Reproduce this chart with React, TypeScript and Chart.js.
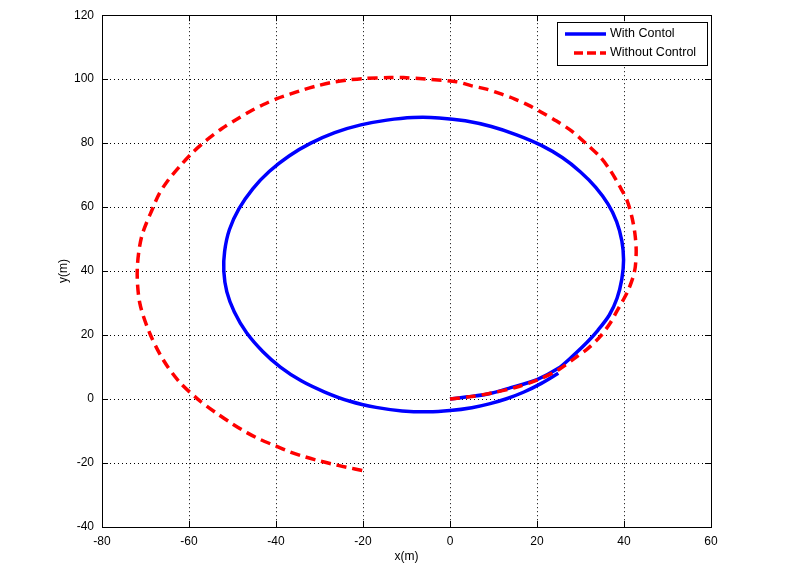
import React, { useEffect, useRef } from 'react';
import { Chart, registerables } from 'chart.js';

Chart.register(...registerables);

const withControlX = [0, 4, 8.4, 13.8, 20, 24.9, 27.6, 31.4, 34, 36.6, 38.4, 39.5, 39.9, 39.5, 38.3, 36.3, 33.5, 30, 25.8, 21, 15.3, 9.5, 3.5, -2.5, -8.5, -14.5, -20.5, -26.5, -32, -37, -41.5, -45.3, -48.5, -50.7, -51.8, -52, -51.3, -49.6, -46.8, -43, -39, -34.2, -28.8, -23, -17, -11, -5, 0, 5, 9, 13, 17, 21, 24.9];
const withControlY = [0, 0.7, 1.5, 3.5, 6.1, 9.6, 12.7, 17.6, 21.5, 26.2, 31.5, 37.5, 43.5, 49.5, 55.5, 61, 66.2, 71, 75.5, 79.3, 82.6, 85.2, 87, 87.9, 88, 87.2, 85.7, 83.3, 80, 76, 71.2, 65.8, 59.5, 53, 46.3, 40, 33.5, 27.3, 20.8, 14.8, 10, 5.7, 2.2, -0.7, -2.6, -3.7, -4, -3.6, -2.7, -1.5, 0.1, 2.2, 4.9, 8.1];

const withoutControlX = [0, 5, 10, 15, 20, 25, 29.1, 31.8, 34.5, 36.8, 38.3, 39.8, 41, 42.1, 42.6, 42.8, 42.5, 41.8, 40.7, 39.1, 36.8, 34.5, 31, 28, 24.5, 21.1, 18, 14.9, 11.9, 8.4, 5, 1.5, -5.4, -10.7, -13.8, -19.9, -23.7, -27.2, -30.6, -33.7, -36.8, -39.8, -43, -46, -49, -52.5, -55.9, -59, -62.1, -64.8, -66.8, -68.2, -70.9, -71.9, -71.3, -69, -65.9, -62.3, -58, -53.8, -50.2, -46.7, -43.7, -40.2, -36.8, -33.5, -30.4, -27.2, -23.8, -19.9];
const withoutControlY = [0, 0.8, 2, 3.6, 5.9, 9.2, 13.2, 15.9, 19.5, 23.7, 27.3, 30.9, 34.1, 38.2, 41.4, 46.6, 51.8, 57, 62.1, 66.3, 71.6, 75.7, 80.2, 83.75, 86.9, 89.6, 91.9, 93.8, 95.3, 96.9, 97.9, 99.2, 100, 100.5, 100.5, 100.2, 99.7, 99, 97.9, 96.7, 95.3, 93.9, 92, 89.9, 87.5, 84.5, 81, 77.3, 72.8, 68.4, 64.3, 60.1, 50.7, 40.3, 29.9, 20.5, 12.2, 5.5, 0, -4.3, -7.6, -10.5, -12.6, -14.6, -16.5, -18, -19.2, -20.3, -21.3, -22.4];

const xTickValues = [-80, -60, -40, -20, 0, 20, 40, 60];
const yTickValues = [-40, -20, 0, 20, 40, 60, 80, 100, 120];
const seriesLabels = ['With Contol', 'Without Control'];
const axisTitles = ['x(m)', 'y(m)'];

const FONT = "'Liberation Sans', Arial, Helvetica, sans-serif";

const boxPlugin = {
  id: 'matlabBox',
  afterDraw(chart: any) {
    const { ctx, chartArea: a, scales } = chart;
    ctx.save();
    ctx.strokeStyle = '#000';
    ctx.lineWidth = 1;
    ctx.setLineDash([]);
    ctx.strokeRect(Math.round(a.left) + 0.5, Math.round(a.top) + 0.5, Math.round(a.right - a.left), Math.round(a.bottom - a.top));
    const tl = 6;
    ctx.beginPath();
    xTickValues.forEach((v) => {
      const px = Math.round(scales.x.getPixelForValue(v)) + 0.5;
      ctx.moveTo(px, a.bottom); ctx.lineTo(px, a.bottom - tl);
      ctx.moveTo(px, a.top); ctx.lineTo(px, a.top + tl);
    });
    yTickValues.forEach((v) => {
      const py = Math.round(scales.y.getPixelForValue(v)) + 0.5;
      ctx.moveTo(a.left, py); ctx.lineTo(a.left + tl, py);
      ctx.moveTo(a.right, py); ctx.lineTo(a.right - tl, py);
    });
    ctx.stroke();

    // legend
    const lx = 557, ly = 22, lw = 150, lh = 43;
    ctx.fillStyle = '#fff';
    ctx.fillRect(lx, ly, lw, lh);
    ctx.strokeRect(lx + 0.5, ly + 0.5, lw, lh);
    const rows = [34, 53];
    chart.data.datasets.forEach((ds: any, i: number) => {
      const y = rows[i];
      ctx.save();
      ctx.strokeStyle = ds.borderColor;
      ctx.lineWidth = ds.borderWidth;
      if (ds.borderDash && ds.borderDash.length) {
        ctx.setLineDash([9, 4]);
        ctx.beginPath(); ctx.moveTo(574, y); ctx.lineTo(606, y); ctx.stroke();
      } else {
        ctx.beginPath(); ctx.moveTo(565, y); ctx.lineTo(606, y); ctx.stroke();
      }
      ctx.restore();
      ctx.fillStyle = '#000';
      ctx.font = `12.5px ${FONT}`;
      ctx.textBaseline = 'middle';
      ctx.textAlign = 'left';
      ctx.fillText(ds.label, 610, y);
    });
    ctx.restore();
  },
};

export default function App() {
  const ref = useRef<HTMLCanvasElement | null>(null);
  useEffect(() => {
    if (!ref.current) return;
    Chart.defaults.font.family = FONT;
    const chart = new Chart(ref.current, {
      type: 'scatter',
      data: {
        datasets: [
          {
            label: seriesLabels[0],
            data: withControlX.map((x, i) => ({ x, y: withControlY[i] })),
            showLine: true,
            borderColor: '#0000ff',
            backgroundColor: '#0000ff',
            borderWidth: 3.5,
            pointRadius: 0,
            fill: false,
            tension: 0.3,
            order: 1,
          },
          {
            label: seriesLabels[1],
            data: withoutControlX.map((x, i) => ({ x, y: withoutControlY[i] })),
            showLine: true,
            borderColor: '#ff0000',
            backgroundColor: '#ff0000',
            borderWidth: 3.5,
            borderDash: [10, 6],
            pointRadius: 0,
            fill: false,
            tension: 0.3,
            order: 0,
          },
        ],
      } as any,
      options: {
        responsive: false,
        animation: false,
        layout: { padding: { left: 0, top: 15, right: 75, bottom: 0 } },
        plugins: { legend: { display: false }, tooltip: { enabled: false } },
        scales: {
          x: {
            type: 'linear',
            min: -80,
            max: 60,
            afterBuildTicks: (s: any) => { s.ticks = xTickValues.map((v) => ({ value: v })); },
            afterFit: (s: any) => { s.height = 38; },
            grid: { color: '#000', lineWidth: 1, drawTicks: false },
            border: { display: false, dash: [1, 3] },
            ticks: { color: '#000', font: { size: 12 }, padding: 7, maxRotation: 0, autoSkip: false },
            title: { display: true, text: axisTitles[0], color: '#000', font: { size: 12 }, padding: { top: 0, bottom: 1 } },
          },
          y: {
            type: 'linear',
            min: -40,
            max: 120,
            afterBuildTicks: (s: any) => { s.ticks = yTickValues.map((v) => ({ value: v })); },
            afterFit: (s: any) => { s.width = 102; },
            grid: { color: '#000', lineWidth: 1, drawTicks: false },
            border: { display: false, dash: [1, 3] },
            ticks: { color: '#000', font: { size: 12 }, padding: 8, autoSkip: false },
            title: { display: true, text: axisTitles[1], color: '#000', font: { size: 12 }, padding: { top: 56, bottom: 0 } },
          },
        },
      } as any,
      plugins: [boxPlugin],
    });
    return () => chart.destroy();
  }, []);
  return (
    <div style={{ position: 'absolute', left: 0, top: 0, width: 786, height: 565, background: '#fff' }}>
      <canvas ref={ref} width={786} height={565} style={{ display: 'block' }} />
    </div>
  );
}
